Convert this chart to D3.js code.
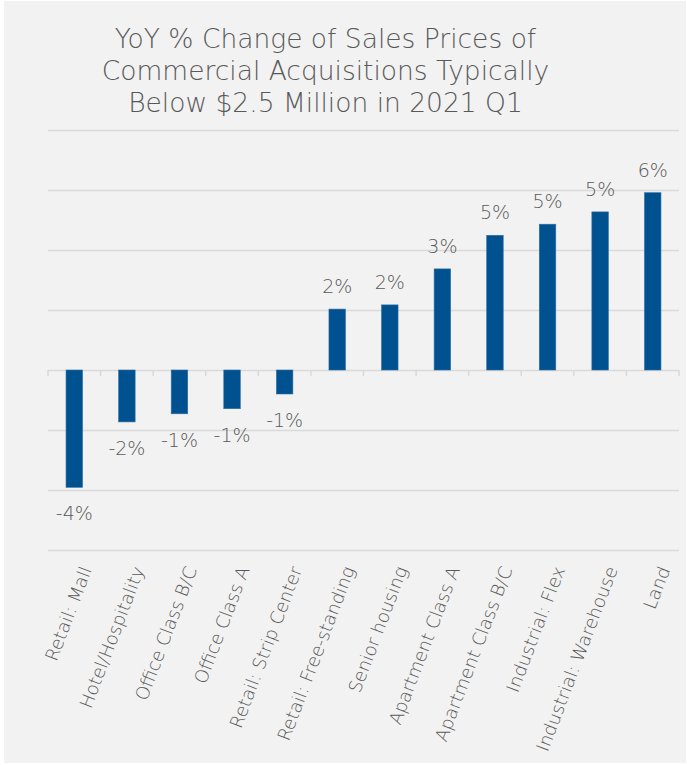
<!DOCTYPE html>
<html><head><meta charset="utf-8">
<script src="https://cdn.jsdelivr.net/npm/d3@7"></script>
<style>body{margin:0;background:#fff}</style>
</head><body><svg id="c" width="687" height="765"></svg>
<script>
const categories = ["Retail: Mall","Hotel/Hospitality","Office Class B/C","Office Class A","Retail: Strip Center","Retail: Free-standing","Senior housing","Apartment Class A","Apartment Class B/C","Industrial: Flex","Industrial: Warehouse","Land"];
const values = [-3.91,-1.73,-1.46,-1.29,-0.8,2.03,2.17,3.37,4.49,4.86,5.27,5.91];
const valueLabels = ["-4%","-2%","-1%","-1%","-1%","2%","2%","3%","5%","5%","5%","6%"];
const yTicks = [-6,-4,-2,0,2,4,6,8];
const titleLines = ["YoY % Change of Sales Prices of","Commercial Acquisitions Typically","Below $2.5 Million in 2021 Q1"];

const svg = d3.select("#c");
const font = "'DejaVu Sans', sans-serif";
const txt = "#595959";

svg.append("rect").attr("x",4).attr("y",1).attr("width",682).attr("height",762).attr("fill","#f2f2f2");

const x = d3.scaleBand().domain(categories).range([48,679]).paddingInner(0.686).paddingOuter(0.343);
const y = d3.scaleLinear().domain([-6,8]).range([550,130]);

const grid = svg.append("g").attr("transform","translate(48,0)")
  .call(d3.axisLeft(y).tickValues(yTicks).tickSize(-631).tickFormat(""));
grid.select(".domain").remove();
grid.selectAll(".tick line").attr("stroke","#d9d9d9").attr("stroke-width",1.5);

const bounds = d3.range(categories.length+1).map(i => x.range()[0] + i*x.step());
svg.append("g").selectAll("line").data(bounds).join("line")
  .attr("x1",d=>d).attr("x2",d=>d).attr("y1",y(0)).attr("y2",y(0)+6)
  .attr("stroke","#d9d9d9").attr("stroke-width",1.5);

svg.append("g").selectAll("rect").data(values).join("rect")
  .attr("x",(d,i)=>x(categories[i]))
  .attr("width",x.bandwidth())
  .attr("y",d=>Math.min(y(d),y(0)))
  .attr("height",d=>Math.abs(y(d)-y(0)))
  .attr("fill","#00518f").attr("stroke","#2f6ea3").attr("stroke-width",0.6);

svg.append("g").selectAll("text").data(values).join("text")
  .attr("x",(d,i)=>x(categories[i])+x.bandwidth()/2)
  .attr("y",d=> d>=0 ? y(d)-16 : y(d)+33)
  .attr("text-anchor","middle")
  .attr("font-family",font).attr("font-weight",200).attr("font-size",19).attr("fill",txt)
  .text((d,i)=>valueLabels[i]);

svg.append("g").selectAll("text").data(categories).join("text")
  .attr("transform",d=>`translate(${x(d)+x.bandwidth()/2+6},565) rotate(-69)`)
  .attr("text-anchor","end").attr("dy","0.7em")
  .attr("font-family",font).attr("font-weight",200).attr("font-size",18).attr("fill",txt)
  .text(d=>d);

svg.append("g").selectAll("text").data(titleLines).join("text")
  .attr("x",325.5).attr("y",(d,i)=>48+i*32)
  .attr("text-anchor","middle")
  .attr("font-family",font).attr("font-weight",200).attr("font-size",26.5).attr("fill",txt)
  .text(d=>d);
</script></body></html>
